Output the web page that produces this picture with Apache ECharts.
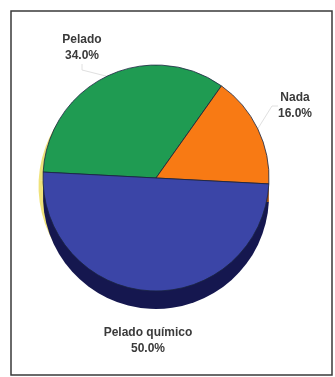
<!DOCTYPE html>
<html>
<head>
<meta charset="utf-8">
<script src="https://cdn.jsdelivr.net/npm/echarts@6/dist/echarts.min.js"></script>
<style>
  html, body { margin: 0; padding: 0; background: #fff; }
  #chart { width: 335px; height: 377px; }
</style>
</head>
<body>
<div id="chart"></div>
<script>
  // slices, in drawing order (clockwise from the left edge)
  var categories = ['Pelado', 'Nada', 'Pelado químico'];
  var shares = [34.0, 16.0, 50.0];
  var faceColors = ['#1f9b52', '#f87a14', '#3b45a7'];
  var sideColors = ['#0f5a2d', '#9a4a0a', '#15174f'];

  var chart = echarts.init(document.getElementById('chart'));

  function sliceData(colors, withLabel) {
    return categories.map(function (name, i) {
      var d = {
        name: name,
        value: shares[i],
        itemStyle: { color: colors ? colors[i] : undefined }
      };
      if (withLabel && i === 2) {
        d.labelLine = { show: false };
      }
      return d;
    });
  }

  // where the label blocks sit (centre of each text block)
  var labelSpots = [[82, 48], [295, 106], [148, 341]];

  var base = {
    type: 'pie',
    radius: 113,
    startAngle: 177,
    clockwise: true,
    silent: true,
    animation: false,
    label: { show: false },
    labelLine: { show: false },
    emphasis: { disabled: true }
  };

  var option = {
    backgroundColor: '#fff',
    graphic: [{
      type: 'rect',
      shape: { x: 11, y: 11, width: 321, height: 364 },
      style: { fill: 'none', stroke: '#3a3a3a', lineWidth: 1.5 },
      z: 100
    }],
    series: [
      // yellowish rim from the print
      echarts.util.merge({
        center: [152.5, 186],
        radius: 114,
        z: 1,
        itemStyle: { color: '#efe27a' },
        data: sliceData(null, false)
      }, base),
      // side of the disc
      echarts.util.merge({
        center: [156, 196],
        z: 2,
        data: sliceData(sideColors, false)
      }, base),
      // top face
      echarts.util.merge({
        center: [156, 178],
        z: 3,
        itemStyle: { borderColor: '#1b2440', borderWidth: 0.8 },
        data: sliceData(faceColors, true),
        label: {
          show: true,
          position: 'outside',
          fontFamily: 'Liberation Sans, Arial, sans-serif',
          fontSize: 12,
          fontWeight: 'bold',
          color: '#3a3a3a',
          lineHeight: 16,
          formatter: function (p) {
            return p.name + '\n' + p.value.toFixed(1) + '%';
          }
        },
        labelLine: {
          show: true,
          length: 8,
          length2: 6,
          lineStyle: { color: '#e0e0e0', width: 1 }
        },
        labelLayout: function (p) {
          var s = labelSpots[p.dataIndex];
          return { x: s[0], y: s[1], align: 'center', verticalAlign: 'middle' };
        }
      }, base)
    ]
  };

  chart.setOption(option);
</script>
</body>
</html>
